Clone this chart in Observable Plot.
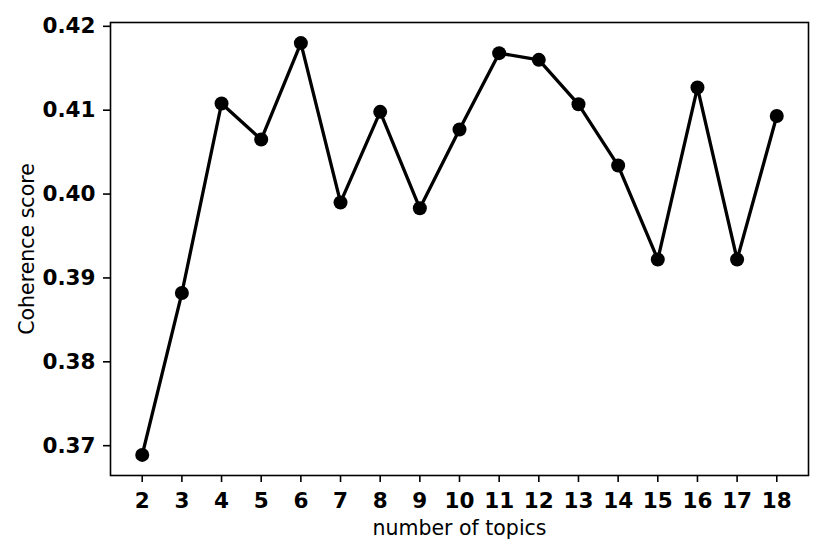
<!DOCTYPE html>
<html>
<head>
<meta charset="utf-8">
<script src="https://cdn.jsdelivr.net/npm/d3@7"></script>
<script src="https://cdn.jsdelivr.net/npm/@observablehq/plot@0.6"></script>
<style>
  html, body { margin: 0; padding: 0; background: #fff; }
</style>
</head>
<body>
<div id="chart"></div>
<script>
const topics = [2, 3, 4, 5, 6, 7, 8, 9, 10, 11, 12, 13, 14, 15, 16, 17, 18];
const coherence = [0.3689, 0.3882, 0.4108, 0.4065, 0.4180, 0.3990, 0.4098, 0.3983, 0.4077, 0.4168, 0.4160, 0.4107, 0.4034, 0.3922, 0.4127, 0.3922, 0.4093];
const xTicks = [2, 3, 4, 5, 6, 7, 8, 9, 10, 11, 12, 13, 14, 15, 16, 17, 18];
const yTicks = [0.37, 0.38, 0.39, 0.40, 0.41, 0.42];
const xLabel = "number of topics";
const yLabel = "Coherence score";

const data = topics.map((t, i) => ({topic: t, score: coherence[i]}));

// matplotlib-like 5% margins around the data extent
const pad = (ext) => { const d = (ext[1] - ext[0]) * 0.05; return [ext[0] - d, ext[1] + d]; };
const xDomain = pad(d3.extent(topics));
const yDomain = pad(d3.extent(coherence));

const chart = Plot.plot({
  width: 831,
  height: 554,
  marginLeft: 110,
  marginRight: 23,
  marginTop: 22,
  marginBottom: 79,
  style: {fontFamily: "DejaVu Sans", fontSize: "20px", color: "black", background: "white"},
  x: {domain: xDomain},
  y: {domain: yDomain},
  marks: [
    Plot.axisX({ticks: xTicks, tickSize: 7, tickPadding: 10, strokeWidth: 1.6, fontWeight: "bold", fontSize: 21.5, tickFormat: d3.format("d"), label: null}),
    Plot.axisY({ticks: yTicks, tickSize: 7, tickPadding: 8, strokeWidth: 1.6, fontWeight: "bold", fontSize: 21.5, tickFormat: d3.format(".2f"), label: null}),
    Plot.frame({stroke: "black", strokeWidth: 1.6}),
    Plot.line(data, {x: "topic", y: "score", stroke: "black", strokeWidth: 3.3}),
    Plot.dot(data, {x: "topic", y: "score", fill: "black", r: 7}),
    Plot.text([xLabel], {frameAnchor: "bottom", lineAnchor: "middle", textAnchor: "middle", dy: 53, fontSize: 20.5, fill: "black"}),
    Plot.text([yLabel], {frameAnchor: "left", lineAnchor: "middle", textAnchor: "middle", rotate: -90, dx: -83, fontSize: 20.5, fill: "black"})
  ]
});
document.getElementById("chart").appendChild(chart);
</script>
</body>
</html>
